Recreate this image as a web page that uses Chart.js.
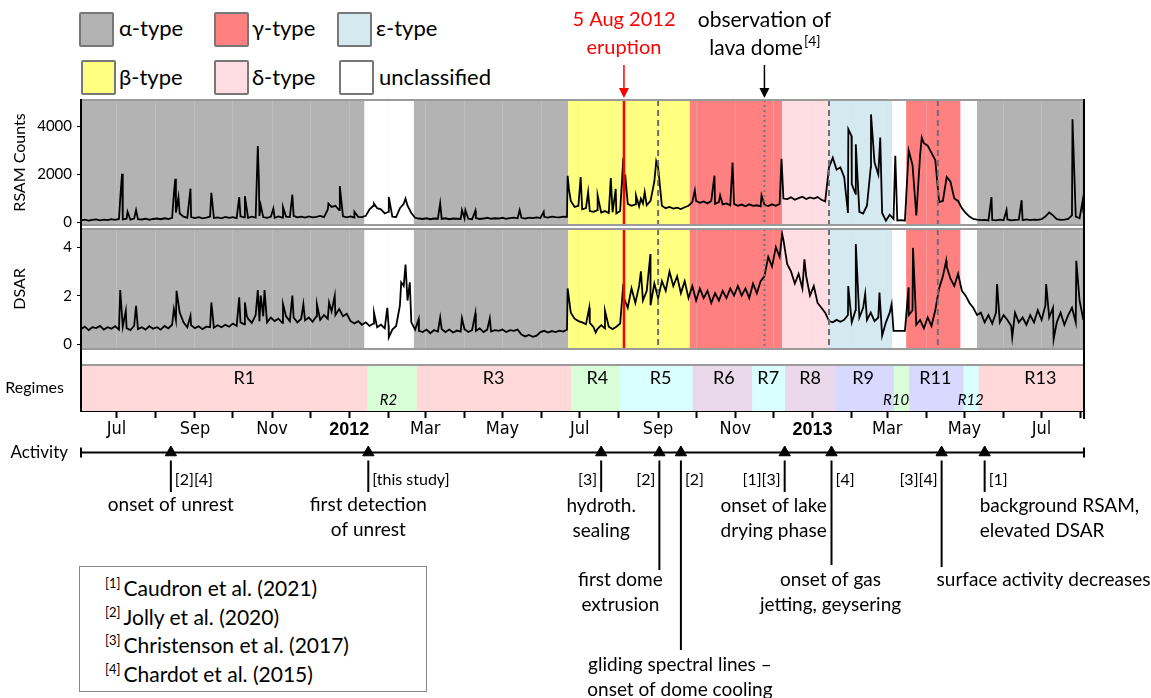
<!DOCTYPE html>
<html>
<head>
<meta charset="utf-8">
<script src="https://cdn.jsdelivr.net/npm/chart.js@4.4.0/dist/chart.umd.min.js"></script>
<style>
  body { margin: 0; background: #fff; width: 1151px; height: 698px; overflow: hidden; position: relative;
         font-family: Lato, "Open Sans", sans-serif; color: #000; }
  canvas { position: absolute; left: 0; top: 0; }
  .key { position: absolute; width: 31px; height: 31px; border: 2px solid #777; border-radius: 2px; box-sizing: content-box; }
  .keytext { position: absolute; font-size: 22px; line-height: 22px; white-space: nowrap; }
  #refs { position: absolute; left: 79px; top: 566px; width: 348px; height: 126px; border: 1px solid #888;
          box-sizing: border-box; padding: 7px 0 0 25px; font-size: 21px; line-height: 28.6px; }
  #refs sup { font-size: 13px; vertical-align: 8px; line-height: 0; margin-right: 3px; }
</style>
</head>
<body>

<div class="key" style="left:79px;top:12px;background:#b3b3b3"></div>
<div class="keytext" style="left:119px;top:17px">α-type</div>
<div class="key" style="left:214px;top:12px;background:#ff8080"></div>
<div class="keytext" style="left:252px;top:17px">γ-type</div>
<div class="key" style="left:337px;top:12px;background:#d4e9f0"></div>
<div class="keytext" style="left:376px;top:17px">ε-type</div>
<div class="key" style="left:81px;top:60px;background:#ffff80"></div>
<div class="keytext" style="left:119px;top:66px">β-type</div>
<div class="key" style="left:214px;top:60px;background:#ffdde3"></div>
<div class="keytext" style="left:252px;top:66px">δ-type</div>
<div class="key" style="left:339px;top:60px;background:#ffffff"></div>
<div class="keytext" style="left:379px;top:66px">unclassified</div>

<div id="refs">
  <div><sup>[1]</sup>Caudron et al. (2021)</div>
  <div><sup>[2]</sup>Jolly et al. (2020)</div>
  <div><sup>[3]</sup>Christenson et al. (2017)</div>
  <div><sup>[4]</sup>Chardot et al. (2015)</div>
</div>

<script>
// time axis: days counted from 1 Jul 2011
const xMin = -28, xMax = 764.5;
const monthDays = [0, 31, 62, 92, 123, 153, 184, 215, 244, 275, 305, 336,
                   366, 397, 428, 458, 489, 519, 550, 581, 609, 640, 670, 701, 731, 762];
const monthLabels = ['Jul', '', 'Sep', '', 'Nov', '', '2012', '', 'Mar', '', 'May', '',
                     'Jul', '', 'Sep', '', 'Nov', '', '2013', '', 'Mar', '', 'May', '', 'Jul', ''];
const yearDays = [184, 550];

// RSAM and DSAR, one value every 3 days starting at day -28
const gridStart = -28, gridStep = 3;
const rsam = [
  90, 120, 80, 110, 130, 90, 120, 100, 140, 110,
  150, 130, 160, 120, 170, 140, 130, 160, 120, 150,
  170, 140, 180, 150, 200, 420, 380, 250, 200, 230,
  190, 230, 180, 210, 250, 190, 220, 180, 240, 200,
  230, 190, 260, 220, 200, 250, 210, 280, 230, 200,
  240, 200, 260, 210, 250, 230, 280, 220, 250, 210,
  260, 220, 240, 280, 230, 550, 650, 700, 520, 260,
  220, 260, 210, 240, 230, 280, 550, 700, 600, 550,
  380, 450, 250, 230, 600, 780, 700, 400, 200, 170,
  150, 180, 140, 170, 160, 150, 180, 140, 170, 160,
  150, 180, 160, 140, 190, 150, 170, 200, 160, 180,
  170, 200, 160, 190, 210, 180, 200, 170, 210, 190,
  220, 190, 240, 210, 250, 230, 220, 250, 240, 900,
  650, 700, 550, 600, 480, 450, 520, 420, 480, 400,
  430, 380, 480, 900, 780, 700, 760, 680, 800, 720,
  900, 1700, 2300, 700, 600, 650, 580, 620, 560, 640,
  700, 850, 900, 820, 880, 800, 900, 780, 850, 760,
  800, 720, 780, 700, 750, 680, 760, 700, 720, 680,
  740, 690, 760, 700, 780, 1000, 980, 1050, 950, 1020,
  1080, 980, 1050, 1000, 1060, 950, 880, 2300, 2700, 2200,
  2300, 1900, 400, 1600, 1200, 450, 380, 700, 2300, 2500,
  2000, 400, 80, 330, 150, 90, 100, 80, 3000, 2400,
  300, 2800, 3300, 3200, 2900, 2600, 850, 900, 1900, 1700,
  1000, 900, 600, 400, 250, 150, 120, 100, 110, 90,
  110, 90, 120, 100, 130, 90, 110, 120, 100, 130,
  100, 120, 110, 140, 250, 420, 300, 140, 110, 120,
  150, 300, 250, 180, 400
];
const dsar = [
  0.62, 0.72, 0.58, 0.7, 0.66, 0.75, 0.6, 0.7, 0.64, 0.74,
  0.6, 0.72, 0.66, 0.58, 0.76, 0.62, 0.7, 0.6, 0.74, 0.64,
  0.7, 0.6, 0.75, 0.65, 0.8, 1.0, 1.3, 0.9, 0.7, 0.78,
  0.66, 0.74, 0.62, 0.72, 0.7, 0.68, 0.78, 0.7, 0.8, 0.72,
  0.85, 0.75, 0.9, 0.82, 1.05, 0.88, 1.2, 0.95, 1.15, 0.9,
  1.1, 0.95, 1.05, 0.88, 1.15, 0.95, 1.1, 0.9, 1.05, 0.98,
  1.1, 0.92, 1.15, 1.0, 1.2, 1.05, 1.35, 1.2, 1.45, 1.15,
  1.25, 0.95, 0.85, 0.95, 0.8, 0.9, 0.75, 0.85, 0.7, 0.8,
  0.65, 0.78, 0.6, 0.75, 1.6, 2.4, 1.8, 0.9, 0.6, 0.55,
  0.5, 0.6, 0.45, 0.58, 0.52, 0.62, 0.5, 0.6, 0.48, 0.56,
  0.52, 0.62, 0.5, 0.58, 0.55, 0.65, 0.5, 0.6, 0.52, 0.58,
  0.55, 0.6, 0.5, 0.58, 0.55, 0.6, 0.4, 0.32, 0.38, 0.3,
  0.35, 0.5, 0.55, 0.48, 0.54, 0.5, 0.56, 0.52, 0.6, 1.3,
  1.05, 0.95, 0.9, 0.82, 0.88, 0.7, 0.62, 0.78, 0.65, 0.72,
  0.62, 0.72, 0.85, 1.9, 1.5, 2.3, 1.7, 2.4, 1.8, 2.2,
  1.6, 2.5, 1.9, 2.6, 2.2, 3.0, 2.4, 2.8, 2.1, 2.6,
  1.9, 2.4, 1.8, 2.3, 1.9, 2.2, 1.7, 2.1, 1.8, 2.2,
  1.9, 2.3, 2.0, 2.4, 2.0, 2.3, 1.9, 2.5, 2.1, 2.6,
  2.8, 3.6, 3.2, 4.0, 3.6, 4.3, 3.3, 3.0, 2.5, 2.9,
  2.3, 2.8, 2.0, 2.4, 1.7, 1.5, 1.3, 0.95, 0.9, 1.0,
  0.92, 1.0, 1.2, 0.9, 1.4, 1.1, 1.5, 1.0, 1.3, 0.95,
  1.1, 0.35, 0.9, 1.3, 0.55, 0.55, 0.55, 0.55, 1.2, 1.4,
  0.8, 1.0, 0.65, 1.1, 0.75, 1.4, 2.3, 2.8, 3.2, 2.7,
  2.4, 2.9, 2.2, 2.0, 1.7, 1.5, 1.2, 1.3, 0.9, 1.2,
  0.85, 1.3, 0.9, 1.2, 1.0, 0.75, 1.3, 0.9, 1.1, 0.8,
  1.2, 0.9, 1.4, 1.0, 1.6, 1.1, 1.5, 0.9, 1.3, 0.8,
  1.2, 1.5, 0.9, 1.8, 1.0
];

// short bursts between the 3-day samples: [day, value]
const rsamSpikes = [
  [3, 1000], [4.4, 2030], [8.8, 450], [15.5, 520], [45.5, 1280], [46.5, 1820], [49, 1060],
  [58.5, 1410], [75, 1240], [97, 1060], [101.5, 1100], [111.7, 3190], [112.5, 1850], [114, 720],
  [124, 590], [131.6, 650], [139, 1160], [167.5, 790], [176.5, 1520], [188, 450], [203.5, 790],
  [215.2, 1070], [228.4, 1000], [255.8, 800], [273, 520], [275.7, 520], [283.6, 500],
  [318.6, 520], [337.6, 450], [356.5, 1950], [357.5, 1400], [366.8, 1890], [372.7, 1270],
  [380.2, 1130], [390.6, 1850], [394.5, 1400], [399.5, 1800], [400.5, 2700], [402, 2000],
  [410.5, 1130], [414.4, 1000], [417.4, 1270], [426.5, 2550], [457, 1340], [472.5, 1950],
  [477, 1130], [486.8, 2500], [509.7, 1130], [525.5, 2650], [578.3, 3880], [580.8, 3600],
  [584.2, 3260], [596.2, 4500], [603.5, 3540], [615.4, 2780], [636.3, 3540], [691.4, 1060],
  [703.3, 520], [715.2, 930], [755.4, 4300], [763.5, 930]
];
const dsarSpikes = [
  [3, 2.23], [7.4, 1.38], [15.5, 1.58], [45.4, 1.45], [47.5, 2.2], [58.5, 1.17], [75, 1.72],
  [97, 1.93], [101.5, 1.72], [103, 1.17], [111.7, 2.23], [114, 2.0], [117, 2.23], [131.6, 1.65],
  [139, 2.0], [147.7, 1.65], [158.4, 1.65], [168, 1.72], [172.5, 2.0], [203.5, 1.3], [214, 1.5],
  [215.2, 0.28], [225, 2.55], [228.4, 3.28], [231.8, 2.55], [238.8, 1.03], [255.8, 1.1],
  [273, 1.07], [283.6, 1.27], [295, 1.07], [356.5, 2.3], [357.5, 1.9], [373.6, 1.5],
  [378.7, 0.48], [386, 1.38], [400.5, 2.48], [414.4, 3.0], [421.9, 3.72], [526, 4.55],
  [543.6, 3.5], [578.2, 2.4], [584.2, 4.13], [591.6, 2.07], [602.9, 2.13], [612.5, 1.65],
  [625.9, 2.34], [629.4, 3.97], [655.6, 3.44], [695.8, 2.48], [707.8, 0.28], [734.6, 2.48],
  [740.5, 0.2], [758.4, 3.44]
];

// signal classification periods
const classStart = [-28, 196, 235, 357, 453, 526, 563, 613, 624, 667, 680];
const classEnd   = [196, 235, 357, 453, 526, 563, 613, 624, 667, 680, 764.5];
const classType  = ['alpha', 'none', 'alpha', 'beta', 'gamma', 'delta', 'epsilon', 'none', 'gamma', 'none', 'alpha'];

// regimes
const regimeNames = ['R1', 'R2', 'R3', 'R4', 'R5', 'R6', 'R7', 'R8', 'R9', 'R10', 'R11', 'R12', 'R13'];
const regimeStart = [-28, 198, 237, 359, 397, 455, 502, 528, 568, 614, 626, 669, 681];
const regimeEnd   = [198, 237, 359, 397, 455, 502, 528, 568, 614, 626, 669, 681, 764.5];
const regimeGroup = ['pink', 'green', 'pink', 'green', 'cyan', 'mauve', 'cyan', 'mauve', 'blue', 'green', 'blue', 'cyan', 'pink'];

// marked dates
const eruptionDay = 401;
const domeSeenDay = 512;
const dashedDays = [428, 563, 649];

// activity timeline
const eventDays = [43, 199, 383, 429, 446, 528, 565, 652, 686];
const eventRefs = ['[2][4]', '[this study]', '[3]', '[2]', '[2]', '[1][3]', '[4]', '[3][4]', '[1]'];
const eventText = [
  ['onset of unrest'], ['first detection', 'of unrest'], ['hydroth.', 'sealing'],
  ['first dome', 'extrusion'], ['gliding spectral lines –', 'onset of dome cooling'],
  ['onset of lake', 'drying phase'], ['onset of gas', 'jetting, geysering'],
  ['surface activity decreases'], ['background RSAM,', 'elevated DSAR']
];

// ---- layout and styles ----
const W = 1151, H = 698;
const plotLeft = 81, plotRight = 1084;
const rsamBox = [100, 225], dsarBox = [229, 349], regBox = [365, 411], actBox = [440, 465];
const FONT = 'Lato, "Open Sans", sans-serif';
const NARROW = '"Liberation Sans Narrow", "Arial Narrow", "DejaVu Sans Condensed", sans-serif';
const classColors = { alpha: '#b3b3b3', beta: '#ffff80', gamma: '#ff8080', delta: '#ffdde3', epsilon: '#d4e9f0', none: '#ffffff' };
const regimeColors = { pink: '#ffd9d9', green: '#d9ffd9', cyan: '#d9ffff', mauve: '#ead9ea', blue: '#d9d9ff' };
const regimeLabelDay = [101, 215, 298, 380, 430, 480, 515, 548, 590, 616, 647, 675, 730];
const regimeSmall = ['R2', 'R10', 'R12'];
// stem end, side of the reference tag, text offset and alignment
const eventLayout = [
  { stem: 492, side: 'r', dx: 0, align: 'center', y: 505 },
  { stem: 492, side: 'r', dx: 0, align: 'center', y: 505 },
  { stem: 492, side: 'l', dx: 0, align: 'center', y: 506 },
  { stem: 570, side: 'l', dx: -39, align: 'center', y: 580 },
  { stem: 650, side: 'r', dx: -1, align: 'center', y: 665 },
  { stem: 492, side: 'l', dx: -11, align: 'center', y: 506 },
  { stem: 565, side: 'r', dx: -1, align: 'center', y: 580 },
  { stem: 567, side: 'l', dx: -5, align: 'left', y: 580 },
  { stem: 492, side: 'r', dx: -5, align: 'left', y: 506 }
];

function makeCanvas() {
  const c = document.createElement('canvas');
  c.width = W; c.height = H;
  document.body.appendChild(c);
  return c;
}

function toPoints(values, spikes) {
  const pts = values.map((v, i) => ({ x: gridStart + i * gridStep, y: v }));
  spikes.forEach(([d, v]) => pts.push({ x: d, y: v }));
  return pts.sort((a, b) => a.x - b.x);
}

function monthTicks(scale) {
  scale.ticks = monthDays.filter(d => d >= xMin && d <= xMax).map(v => ({ value: v }));
}

function vline(ctx, x, top, bottom, color, width, dash) {
  ctx.save();
  ctx.strokeStyle = color;
  ctx.lineWidth = width;
  ctx.setLineDash(dash || []);
  ctx.beginPath();
  ctx.moveTo(x, top);
  ctx.lineTo(x, bottom);
  ctx.stroke();
  ctx.restore();
}

function arrowDown(ctx, x, y0, y1, color) {
  vline(ctx, x, y0, y1 - 8, color, 1.5);
  ctx.save();
  ctx.fillStyle = color;
  ctx.beginPath();
  ctx.moveTo(x - 5, y1 - 10);
  ctx.lineTo(x + 5, y1 - 10);
  ctx.lineTo(x, y1);
  ctx.closePath();
  ctx.fill();
  ctx.restore();
}

// coloured periods behind the series, marker lines and panel frame
const panelPlugin = {
  id: 'panel',
  beforeDraw(chart) {
    const { ctx, chartArea: a, scales: { x } } = chart;
    ctx.save();
    classStart.forEach((s, i) => {
      const x0 = x.getPixelForValue(s), x1 = x.getPixelForValue(classEnd[i]);
      ctx.fillStyle = classColors[classType[i]];
      ctx.fillRect(x0, a.top, x1 - x0, a.bottom - a.top);
    });
    ctx.restore();
  },
  afterDatasetsDraw(chart) {
    const { ctx, chartArea: a, scales: { x } } = chart;
    dashedDays.forEach(d => vline(ctx, x.getPixelForValue(d), a.top, a.bottom, '#6e6e6e', 2, [6, 4]));
    vline(ctx, x.getPixelForValue(domeSeenDay), a.top, a.bottom, '#777', 2, [2, 3]);
    vline(ctx, x.getPixelForValue(eruptionDay), a.top, a.bottom, '#ff0000', 2.5);
  },
  afterDraw(chart) {
    const { ctx, chartArea: a } = chart;
    ctx.save();
    ctx.strokeStyle = '#9a9a9a';
    ctx.lineWidth = 2;
    ctx.beginPath();
    ctx.moveTo(a.left, a.top); ctx.lineTo(a.right, a.top);
    ctx.moveTo(a.left, a.bottom); ctx.lineTo(a.right, a.bottom);
    ctx.stroke();
    ctx.restore();
  }
};

// eruption and lava dome notes above the RSAM panel
const notesPlugin = {
  id: 'notes',
  afterDraw(chart) {
    const { ctx, scales: { x } } = chart;
    const ex = x.getPixelForValue(eruptionDay), dx = x.getPixelForValue(domeSeenDay);
    ctx.save();
    ctx.textAlign = 'center';
    ctx.textBaseline = 'middle';
    ctx.font = '20px ' + FONT;
    ctx.fillStyle = '#ff0000';
    ctx.fillText('5 Aug 2012', ex, 20);
    ctx.fillText('eruption', ex, 48);
    ctx.fillStyle = '#000';
    ctx.font = '21px ' + FONT;
    ctx.fillText('observation of', dx, 20);
    const main = 'lava dome', sup = '[4]';
    const w1 = ctx.measureText(main).width;
    ctx.font = '14px ' + FONT;
    const w2 = ctx.measureText(sup).width;
    const left = dx - (w1 + w2) / 2;
    ctx.textAlign = 'left';
    ctx.fillText(sup, left + w1 + 1, 41);
    ctx.font = '21px ' + FONT;
    ctx.fillText(main, left, 48);
    ctx.restore();
    arrowDown(ctx, ex, 65, 98, '#ff0000');
    arrowDown(ctx, dx, 65, 98, '#000');
  }
};

function seriesChart(points, box, yMin, yMax, yTicks, title, plugins) {
  return new Chart(makeCanvas(), {
    type: 'line',
    data: { datasets: [{ data: points, borderColor: '#000', borderWidth: 1.8, pointRadius: 0, tension: 0 }] },
    options: {
      responsive: false, animation: false, events: [],
      layout: { autoPadding: false, padding: { left: 0, right: W - plotRight, top: box[0], bottom: H - box[1] } },
      plugins: { legend: { display: false }, tooltip: { enabled: false } },
      scales: {
        x: {
          type: 'linear', min: xMin, max: xMax,
          afterBuildTicks: monthTicks,
          afterFit: s => { s.height = 0; },
          ticks: { display: false },
          grid: { color: 'rgba(225,225,225,0.25)', lineWidth: 1, drawTicks: false },
          border: { display: false }
        },
        y: {
          min: yMin, max: yMax,
          afterBuildTicks: s => { s.ticks = yTicks.map(v => ({ value: v })); },
          afterFit: s => { s.width = plotLeft; },
          ticks: { color: '#000', font: { family: FONT, size: 15 }, padding: 5, callback: v => String(v) },
          grid: { drawOnChartArea: false, tickLength: 4, color: '#000' },
          border: { color: '#000', width: 2 },
          title: { display: true, text: title, color: '#000', font: { family: FONT, size: 16 }, padding: { top: 10, bottom: 0 } }
        }
      }
    },
    plugins
  });
}

seriesChart(toPoints(rsam, rsamSpikes), rsamBox, -100, 5100, [0, 2000, 4000], 'RSAM Counts', [panelPlugin, notesPlugin]);
seriesChart(toPoints(dsar, dsarSpikes), dsarBox, -0.2, 4.75, [0, 2, 4], 'DSAR', [panelPlugin]);

// regime names and the long frame lines on both sides of the panels
const regimePlugin = {
  id: 'regimes',
  afterDraw(chart) {
    const { ctx, chartArea: a, scales: { x } } = chart;
    ctx.save();
    ctx.fillStyle = '#000';
    ctx.textAlign = 'center';
    ctx.textBaseline = 'middle';
    regimeNames.forEach((n, i) => {
      const small = regimeSmall.includes(n);
      ctx.font = small ? 'italic 15px ' + FONT : '18px ' + FONT;
      ctx.fillText(n, x.getPixelForValue(regimeLabelDay[i]), small ? a.top + 35 : a.top + 13);
    });
    ctx.strokeStyle = '#9a9a9a';
    ctx.lineWidth = 2;
    ctx.beginPath();
    ctx.moveTo(a.left, a.top); ctx.lineTo(a.right, a.top);
    ctx.stroke();
    ctx.restore();
    vline(ctx, plotLeft, rsamBox[0] - 1, a.bottom + 1, '#000', 2);
    vline(ctx, plotRight, rsamBox[0] - 1, a.bottom + 8, '#000', 2);
  }
};

new Chart(makeCanvas(), {
  type: 'bar',
  data: {
    labels: ['Regimes'],
    datasets: regimeNames.map((n, i) => ({
      label: n,
      data: [[regimeStart[i], regimeEnd[i]]],
      backgroundColor: regimeColors[regimeGroup[i]],
      grouped: false, barPercentage: 1, categoryPercentage: 1, borderWidth: 0
    }))
  },
  options: {
    indexAxis: 'y',
    responsive: false, animation: false, events: [],
    layout: { autoPadding: false, padding: { left: 0, right: W - plotRight, top: regBox[0], bottom: H - regBox[1] - 30 } },
    plugins: { legend: { display: false }, tooltip: { enabled: false } },
    scales: {
      x: {
        type: 'linear', min: xMin, max: xMax, z: 1,
        afterBuildTicks: monthTicks,
        afterFit: s => { s.height = 30; },
        ticks: {
          autoSkip: false, maxRotation: 0, padding: 1, color: '#000',
          callback: v => monthLabels[monthDays.indexOf(v)],
          font: ctx => {
            const isYear = ctx.tick && yearDays.includes(ctx.tick.value);
            return isYear ? { family: '"Liberation Sans", Arial, sans-serif', size: 18, weight: 'bold' }
                          : { family: NARROW, size: 18 };
          }
        },
        grid: { color: 'rgba(150,150,150,0.2)', tickColor: '#000', tickLength: 7, tickWidth: 2 },
        border: { color: '#000', width: 2 }
      },
      y: {
        afterFit: s => { s.width = plotLeft; },
        ticks: { color: '#000', font: { family: FONT, size: 16 }, padding: 9 },
        grid: { display: false },
        border: { color: '#000', width: 2 }
      }
    }
  },
  plugins: [regimePlugin]
});

// activity stems, reference tags and descriptions
const activityPlugin = {
  id: 'activity',
  afterDatasetsDraw(chart) {
    const { ctx, scales: { x, y } } = chart;
    const y0 = y.getPixelForValue(0);
    ctx.save();
    ctx.fillStyle = '#000';
    ctx.textBaseline = 'middle';
    ctx.font = '17px ' + FONT;
    ctx.textAlign = 'right';
    ctx.fillText('Activity', plotLeft - 13, y0);
    eventDays.forEach((d, i) => {
      const px = x.getPixelForValue(d);
      const lay = eventLayout[i];
      vline(ctx, px, y0 + 8, lay.stem, '#000', 2);
      ctx.font = '16px ' + FONT;
      ctx.textAlign = lay.side === 'r' ? 'left' : 'right';
      ctx.fillText(eventRefs[i], lay.side === 'r' ? px + 4 : px - 4, y0 + 27);
      ctx.font = '19px ' + FONT;
      ctx.textAlign = lay.align;
      eventText[i].forEach((line, k) => ctx.fillText(line, px + lay.dx, lay.y + k * 25));
    });
    ctx.restore();
  }
};

new Chart(makeCanvas(), {
  type: 'scatter',
  data: {
    datasets: [
      { type: 'line', data: [{ x: xMin, y: 0 }, { x: xMax, y: 0 }], borderColor: '#000', borderWidth: 2,
        pointStyle: 'line', pointRotation: 90, pointRadius: 5, pointBorderWidth: 2, pointBorderColor: '#000', clip: false },
      { data: eventDays.map(d => ({ x: d, y: 0 })), pointStyle: 'triangle', pointRadius: 6.5,
        backgroundColor: '#000', borderColor: '#000', borderWidth: 1, clip: false }
    ]
  },
  options: {
    responsive: false, animation: false, events: [],
    layout: { autoPadding: false, padding: { left: plotLeft, right: W - plotRight, top: actBox[0], bottom: H - actBox[1] } },
    plugins: { legend: { display: false }, tooltip: { enabled: false } },
    scales: {
      x: { type: 'linear', min: xMin, max: xMax, display: false },
      y: { min: -1, max: 1, display: false }
    }
  },
  plugins: [activityPlugin]
});
</script>
</body>
</html>
